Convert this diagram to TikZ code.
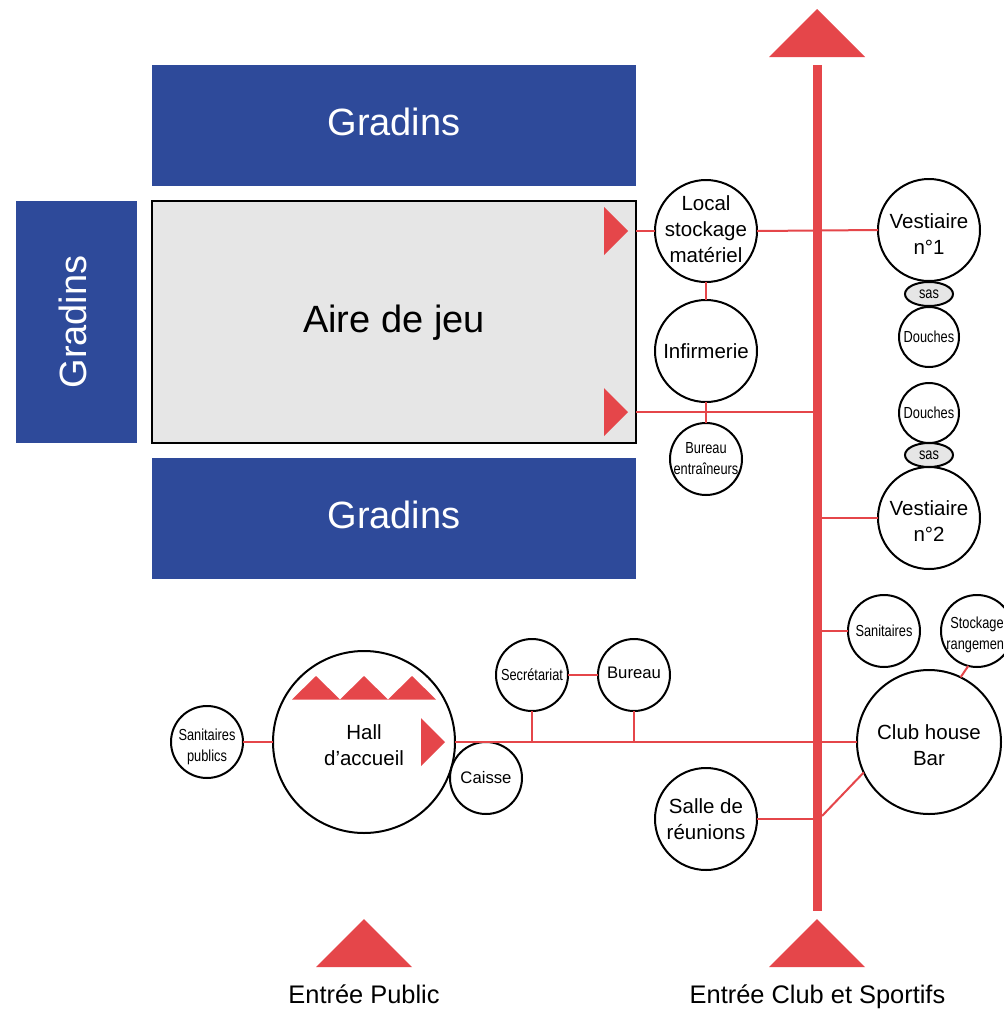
\documentclass[tikz,border=0pt]{standalone}
\usepackage{graphicx}
\usepackage{fontspec}
\setmainfont{Liberation Sans}
\usetikzlibrary{shapes.geometric}
\definecolor{redc}{HTML}{E5464A}
\definecolor{bluec}{HTML}{2E4A9A}
\definecolor{grayc}{HTML}{E6E6E6}
\newcommand{\cnd}[1]{\scalebox{0.8}[1]{#1}}
\newcommand{\trifill}[3]{\fill[redc] #1 -- #2 -- #3 -- cycle;}
\tikzset{
  stand/.style={fill=bluec,inner sep=0,outer sep=0},
  standtxt/.style={text=white,inner sep=0,font=\fontsize{38}{44}\selectfont},
  room/.style={circle,draw=black,line width=2pt,fill=white,inner sep=0,outer sep=0,minimum size=#1},
  sasbox/.style={ellipse,draw=black,line width=2pt,fill=grayc,inner sep=0,outer sep=0,minimum width=48pt,minimum height=24pt,font=\fontsize{16}{18}\selectfont},
  bigtxt/.style={align=center,inner sep=0,font=\fontsize{20.5}{26}\selectfont},
  midtxt/.style={align=center,inner sep=0,font=\fontsize{16.7}{21}\selectfont},
  smalltxt/.style={align=center,inner sep=0,font=\fontsize{16}{21}\selectfont},
  link/.style={draw=redc,line width=2pt},
  entree/.style={anchor=base,inner sep=0,font=\fontsize{25.4}{30}\selectfont},
}
\begin{document}
\begin{tikzpicture}[x=1pt,y=-1pt]
\useasboundingbox (0,0) rectangle (1004,1010);
\fill[white] (0,0) rectangle (1004,1010);
% stands and playing area
\node[stand,minimum width=484pt,minimum height=121pt,label={[standtxt,yshift=4pt]center:Gradins}] (gtop) at (394,125.5) {};
\node[stand,minimum width=484pt,minimum height=121pt,label={[standtxt,yshift=4pt]center:Gradins}] (gbot) at (394,518.5) {};
\node[stand,minimum width=121pt,minimum height=242pt,label={[standtxt,xshift=-4pt,rotate=90]center:Gradins}] (gleft) at (76.5,322) {};
\node[draw=black,line width=2pt,fill=grayc,inner sep=0,outer sep=0,minimum width=484pt,minimum height=242pt,label={[inner sep=0,yshift=-1pt,font=\fontsize{38}{44}\selectfont]center:Aire de jeu}] (aire) at (394,322) {};
% main corridor
\node[fill=redc,inner sep=0,outer sep=0,minimum width=9pt,minimum height=846pt] (bar) at (817.5,488) {};
% rooms
\node[room=102pt,label={[bigtxt,yshift=2pt]center:Local\\stockage\\matériel}] (local) at (706,231) {};
\node[room=102pt,label={[bigtxt]center:Infirmerie}] (inf) at (706,351) {};
\node[room=72pt,label={[smalltxt]center:\cnd{Bureau}\\\cnd{entraîneurs}}] (entr) at (706,459) {};
\node[room=102pt,label={[bigtxt,yshift=-4pt]center:Vestiaire\\n°1}] (vesta) at (929,230) {};
\node[room=102pt,label={[bigtxt,yshift=-3pt]center:Vestiaire\\n°2}] (vestb) at (929,518) {};
\node[room=60pt,label={[smalltxt]center:\cnd{Douches}}] (dousa) at (929,337) {};
\node[room=60pt,label={[smalltxt]center:\cnd{Douches}}] (dousb) at (929,413) {};
\node[sasbox] (sasa) at (929,294) {\cnd{sas}};
\node[sasbox] (sasb) at (929,455) {\cnd{sas}};
\node[room=72pt,label={[smalltxt]center:\cnd{Sanitaires}}] (sani) at (884,631) {};
\node[room=72pt,label={[smalltxt,yshift=-4pt]center:\cnd{Stockage}\\\cnd{rangement}}] (stock) at (977,631) {};
\node[room=144pt,label={[bigtxt,yshift=-3pt]center:Club house\\Bar}] (club) at (929,742) {};
\node[room=102pt,label={[bigtxt]center:Salle de\\réunions}] (salle) at (706,819) {};
\node[room=182pt,label={[bigtxt,yshift=-3pt]center:Hall\\d'accueil}] (hall) at (364,742) {};
\node[room=72pt,label={[midtxt]center:Caisse}] (caisse) at (486,778) {};
\node[room=72pt,label={[smalltxt]center:\cnd{Secrétariat}}] (secr) at (532,675) {};
\node[room=72pt,label={[midtxt,yshift=2pt]center:Bureau}] (bur) at (634,675) {};
\node[room=72pt,label={[smalltxt,yshift=-5pt]center:\cnd{Sanitaires}\\\cnd{publics}}] (sanp) at (207,742) {};
% connectors
\coordinate (baseb) at (636,412);
\coordinate (diag) at (822,816);
\draw[link] (local.west -| aire.east) -- (local.west);
\draw[link] (local.east) -- (vesta.west);
\draw[link] (local.south) -- (inf.north);
\draw[link] (inf.south) -- (entr.north);
\draw[link] (baseb) -- (baseb -| bar.west);
\draw[link] (vestb.west) -- (vestb.west -| bar.east);
\draw[link] (sani.west) -- (sani.west -| bar.east);
\draw[link] (stock.256) -- (club.64);
\draw[link] (sanp.east) -- (hall.west);
\draw[link] (hall.east) -- (club.west);
\draw[link] (secr.east) -- (bur.west);
\draw[link] (secr.south) -- (secr.south |- hall.east);
\draw[link] (bur.south) -- (bur.south |- hall.east);
\draw[link] (salle.east) -- (salle.east -| bar.east);
\draw[link] (diag) -- (club.205);
% arrows as triangles
\trifill{(769,57)}{(817,9)}{(865,57)}
\trifill{(769,967)}{(817,919)}{(865,967)}
\trifill{(316,967)}{(364,919)}{(412,967)}
\trifill{(604,207)}{(628,231)}{(604,255)}
\trifill{(604,388)}{(628,412)}{(604,436)}
\trifill{(292,699.5)}{(316,676)}{(340,699.5)}
\trifill{(340,699.5)}{(364,676)}{(388,699.5)}
\trifill{(388,699.5)}{(412,676)}{(436,699.5)}
\trifill{(421,718)}{(445,742)}{(421,766)}
% entrance labels
\node[entree] (epub) at (364,1003) {Entrée Public};
\node[entree] (eclub) at (817.5,1003) {Entrée Club et Sportifs};
\end{tikzpicture}
\end{document}
